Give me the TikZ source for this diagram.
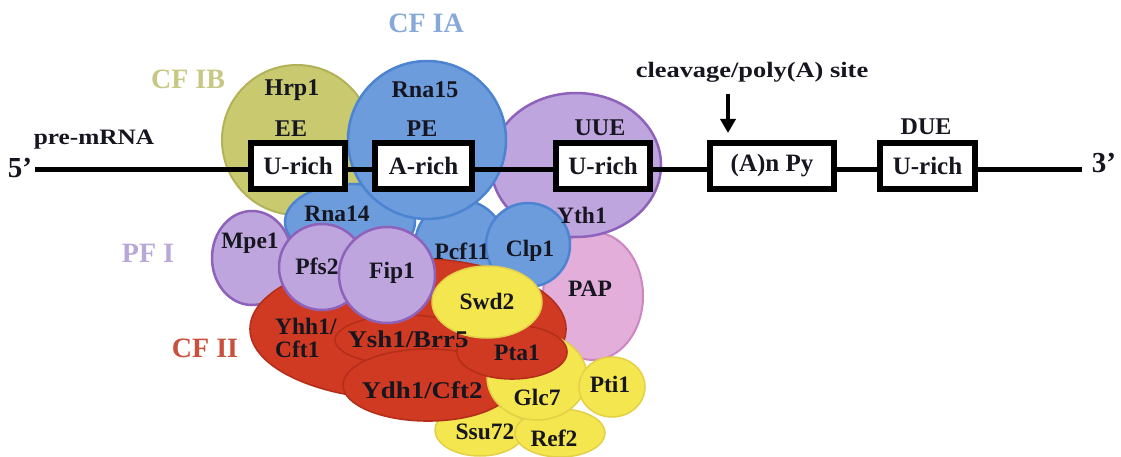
\documentclass[tikz,border=0pt]{standalone}
\usepackage{fontspec}
\setmainfont{Liberation Serif}
\newfontfamily\widefont{Liberation Serif}[FakeStretch=1.15]
\newfontfamily\widerfont{Liberation Serif}[FakeStretch=1.2]
\newfontfamily\slashfont{Liberation Serif}[FakeStretch=1.12]
\usetikzlibrary{arrows.meta}

\definecolor{olivefill}{RGB}{201,201,112}
\definecolor{oliveline}{RGB}{178,178,88}
\definecolor{olivelabel}{RGB}{200,200,132}
\definecolor{bluefill}{RGB}{109,156,221}
\definecolor{blueline}{RGB}{76,132,210}
\definecolor{bluelabel}{RGB}{134,169,218}
\definecolor{purplefill}{RGB}{191,165,222}
\definecolor{purpleline}{RGB}{142,98,186}
\definecolor{purplelabel}{RGB}{184,168,216}
\definecolor{pinkfill}{RGB}{227,174,218}
\definecolor{pinkline}{RGB}{204,134,196}
\definecolor{redfill}{RGB}{209,58,34}
\definecolor{redline}{RGB}{180,46,26}
\definecolor{redlabel}{RGB}{201,80,60}
\definecolor{yellowfill}{RGB}{244,230,78}
\definecolor{yellowline}{RGB}{227,208,72}
\definecolor{ink}{RGB}{22,22,32}

\tikzset{
  olive/.style={fill=olivefill, draw=oliveline, line width=2pt},
  bluep/.style={fill=bluefill, draw=blueline, line width=2.5pt},
  purp/.style={fill=purplefill, draw=purpleline, line width=2.5pt},
  pinkp/.style={fill=pinkfill, draw=pinkline, line width=2pt},
  redp/.style={fill=redfill, draw=redline, line width=1.6pt},
  yelp/.style={fill=yellowfill, draw=yellowline, line width=1.5pt},
  rna/.style={draw=black, line width=5pt},
  rbox/.style={draw=black, fill=white, line width=6pt, minimum height=46pt,
               inner sep=0pt, text=ink, font=\fontsize{25}{28}\selectfont\bfseries},
  toplab/.style={text=ink, inner sep=0pt, font=\fontsize{24}{27}\selectfont\bfseries},
  sublab/.style={text=ink, inner sep=0pt, font=\fontsize{23.5}{26}\selectfont\bfseries},
  slashlab/.style={text=ink, inner sep=0pt, font=\fontsize{24}{26}\selectfont\slashfont\bfseries},
  grplab/.style={inner sep=0pt, font=\fontsize{28}{30}\selectfont\bfseries},
  endlab/.style={text=ink, inner sep=0pt, font=\fontsize{29}{31}\selectfont\bfseries},
}

\begin{document}
\begin{tikzpicture}[x=1pt, y=-1pt]
\useasboundingbox (0,0) rectangle (1121,457);
\fill[white] (0,0) rectangle (1121,457);

% ---- protein complexes (back to front) ----
\path[olive] (297,140) circle [radius=75pt];                         % Hrp1
\path[pinkp] (593,296) ellipse [x radius=50pt, y radius=64pt];       % PAP
\path[purp]  (576,165) ellipse [x radius=85pt, y radius=72pt];       % Yth1
\path[bluep] (350,222) ellipse [x radius=65pt, y radius=38pt];       % Rna14
\path[bluep] (460,245) circle [radius=45pt];                         % Pcf11
\path[bluep] (528,245) circle [radius=42pt];                         % Clp1
\path[bluep] (427,140) circle [radius=79pt];                         % Rna15
\path[purp]  (252,258) ellipse [x radius=40pt, y radius=47pt];       % Mpe1
\path[yelp]  (480,430) ellipse [x radius=45pt, y radius=26pt];       % Ssu72
\path[yelp]  (560,433) ellipse [x radius=45pt, y radius=24pt];       % Ref2
\path[redp]  (408,329) ellipse [x radius=158pt, y radius=71pt];      % Yhh1/Cft1
\path[redp]  (405,340) ellipse [x radius=70pt, y radius=25pt];       % Ysh1/Brr5
\path[redp]  (428,385) ellipse [x radius=85pt, y radius=36pt];       % Ydh1/Cft2
\path[yelp]  (537,377) ellipse [x radius=50pt, y radius=43pt];       % Glc7
\path[yelp]  (612,387) ellipse [x radius=33pt, y radius=30pt];       % Pti1
\path[redp]  (512,352) ellipse [x radius=55pt, y radius=27pt];       % Pta1
\path[purp]  (322,267) circle [radius=43pt];                         % Pfs2
\path[purp]  (387,275) circle [radius=48pt];                         % Fip1
\path[yelp]  (487,302) ellipse [x radius=55pt, y radius=36pt];       % Swd2

% ---- pre-mRNA ----
\coordinate (l5) at (35,170);
\coordinate (l3) at (1082,170);
\draw[rna] (l5) -- (l3);

\node[rbox, minimum width=94pt]  (ee)  at (298,166)   {U-rich};
\node[rbox, minimum width=97pt]  (pe)  at (423.5,166) {A-rich};
\node[rbox, minimum width=94pt]  (uue) at (603,166)   {U-rich};
\node[rbox, minimum width=124pt] (apy) at (772,166)   {(A)n Py};
\node[rbox, minimum width=95pt]  (due) at (927.5,166) {U-rich};

\node[endlab] (five)  at (20,168)   {5’};
\node[endlab] (three) at (1104,163) {3’};
\node[text=ink, inner sep=0pt, font=\fontsize{22}{24}\selectfont\widefont\bfseries] (pre) at (94,140) {pre-mRNA};

% element names
\node[toplab] (eelab)  at (291,129) {EE};
\node[toplab] (pelab)  at (422,129) {PE};
\node[toplab] (uuelab) at (600,128) {UUE};
\node[toplab] (duelab) at (926,127) {DUE};

% cleavage site
\node[text=ink, inner sep=0pt, font=\fontsize{22}{24}\selectfont\widerfont\bfseries] (cleav) at (752,72) {cleavage/poly(A) site};
\coordinate (a1) at (728,94);
\coordinate (a2) at (728,133);
\draw[line width=3.5pt, -{Triangle[length=14pt, width=15pt]}] (a1) -- (a2);

% factor names
\node[grplab, text=bluelabel]   (cfia) at (426,23)  {CF IA};
\node[grplab, text=olivelabel]  (cfib) at (188,79)  {CF IB};
\node[grplab, text=purplelabel] (pfi)  at (148,253) {PF I};
\node[grplab, text=redlabel]    (cfii) at (205,348) {CF II};

% protein names
\node[toplab] (hrp1)  at (292,90)  {Hrp1};
\node[toplab] (rna15) at (425,90)  {Rna15};
\node[sublab] (yth1)  at (582,215) {Yth1};
\node[sublab] (rna14) at (337,214) {Rna14};
\node[sublab] (mpe1)  at (250,243) {Mpe1};
\node[sublab] (pfs2)  at (317,266) {Pfs2};
\node[sublab] (fip1)  at (392,273) {Fip1};
\node[sublab] (pcf11) at (462,251) {Pcf11};
\node[sublab] (clp1)  at (530,251) {Clp1};
\node[sublab] (swd2)  at (487,301) {Swd2};
\node[sublab] (pap)   at (590,289) {PAP};
\node[sublab, anchor=west] (yhh1) at (275,326) {Yhh1/};
\node[sublab, anchor=west] (cft1) at (275,349) {Cft1};
\node[slashlab] (ysh1) at (408,339) {Ysh1/Brr5};
\node[sublab] (pta1)  at (517,353) {Pta1};
\node[slashlab] (ydh1) at (422,390) {Ydh1/Cft2};
\node[sublab] (glc7)  at (537,397) {Glc7};
\node[sublab] (pti1)  at (610,384) {Pti1};
\node[sublab] (ssu72) at (485,432) {Ssu72};
\node[sublab] (ref2)  at (554,438) {Ref2};
\end{tikzpicture}
\end{document}
